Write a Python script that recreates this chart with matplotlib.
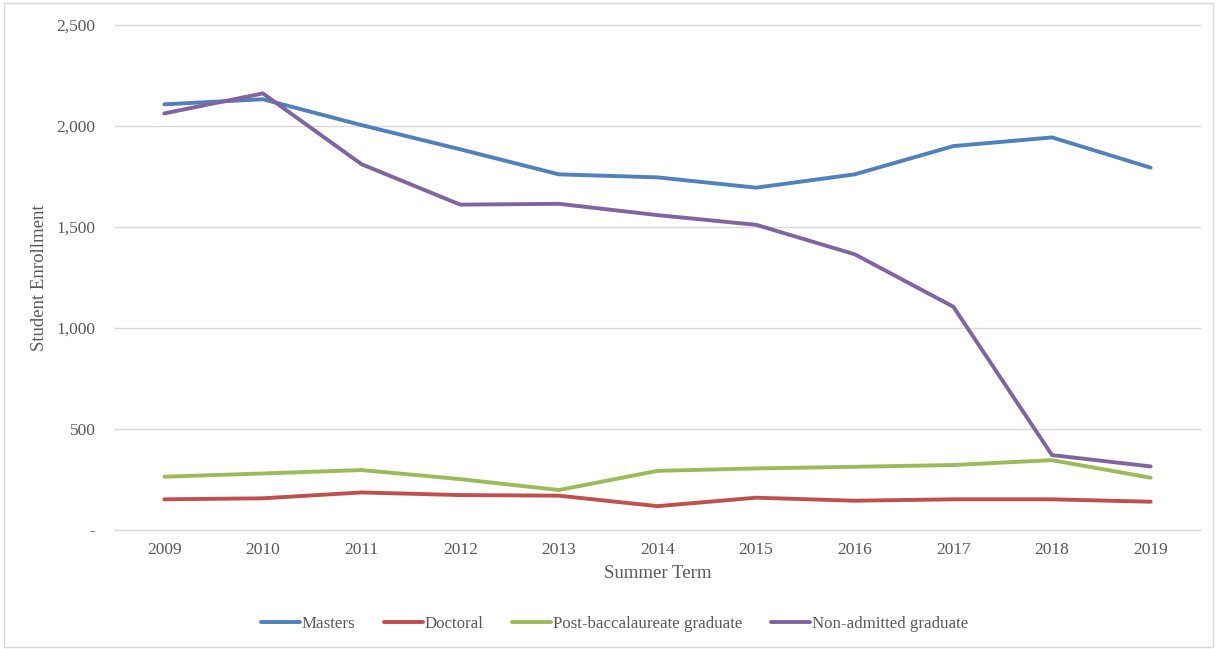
import matplotlib.pyplot as plt
from matplotlib.patches import Rectangle
from matplotlib.ticker import FuncFormatter

years = [2009, 2010, 2011, 2012, 2013, 2014, 2015, 2016, 2017, 2018, 2019]
masters = [2107, 2132, 2004, 1884, 1760, 1745, 1694, 1760, 1900, 1943, 1793]
doctoral = [150, 155, 184, 171, 168, 116, 158, 143, 150, 150, 138]
post_bacc = [262, 278, 295, 250, 196, 291, 303, 311, 320, 344, 257]
non_admitted = [2062, 2161, 1810, 1610, 1614, 1558, 1510, 1364, 1104, 369, 313]

series = [
    ("Masters", masters, "#4F81BD"),
    ("Doctoral", doctoral, "#C0504D"),
    ("Post-baccalaureate graduate", post_bacc, "#9BBB59"),
    ("Non-admitted graduate", non_admitted, "#8064A2"),
]

plt.rcParams['font.family'] = ['Liberation Serif', 'DejaVu Serif']
text_color = "#595959"

fig = plt.figure(figsize=(12.17, 6.49), dpi=100)
ax = fig.add_axes([0.0945, 0.184, 0.8915, 0.7775])

for name, values, color in series:
    ax.plot(years, values, color=color, lw=2.8, label=name,
            solid_capstyle="round", solid_joinstyle="round")

ax.set_xlim(2008.5, 2019.5)
ax.set_ylim(0, 2500)
ax.set_xticks(years)
ax.set_yticks(range(0, 2501, 500))
ax.yaxis.set_major_formatter(FuncFormatter(lambda v, p: "-" if v == 0 else f"{int(v):,}"))
ax.grid(axis="y", color="#D9D9D9", lw=1, clip_on=False)
ax.set_axisbelow(True)
for s in ax.spines.values():
    s.set_visible(False)
ax.tick_params(length=0, labelsize=12.5, colors=text_color)
ax.tick_params(axis="y", pad=14)
ax.tick_params(axis="x", pad=9)

ax.set_xlabel("Summer Term", fontsize=13.5, color=text_color, labelpad=5)
ax.set_ylabel("Student Enrollment", fontsize=13.5, color=text_color, labelpad=6)

leg = fig.legend(loc="center", bbox_to_anchor=(0.505, 0.038), ncol=4, frameon=False,
                 fontsize=12.2, handlelength=2.3, handletextpad=0.1, columnspacing=1.7)
for t in leg.get_texts():
    t.set_color(text_color)

# light frame around the whole chart
fig.patches.append(Rectangle((0.003, 0.003), 0.994, 0.993, transform=fig.transFigure,
                             fill=False, edgecolor="#D9D9D9", lw=1))

fig.savefig("out.png", dpi=100)
